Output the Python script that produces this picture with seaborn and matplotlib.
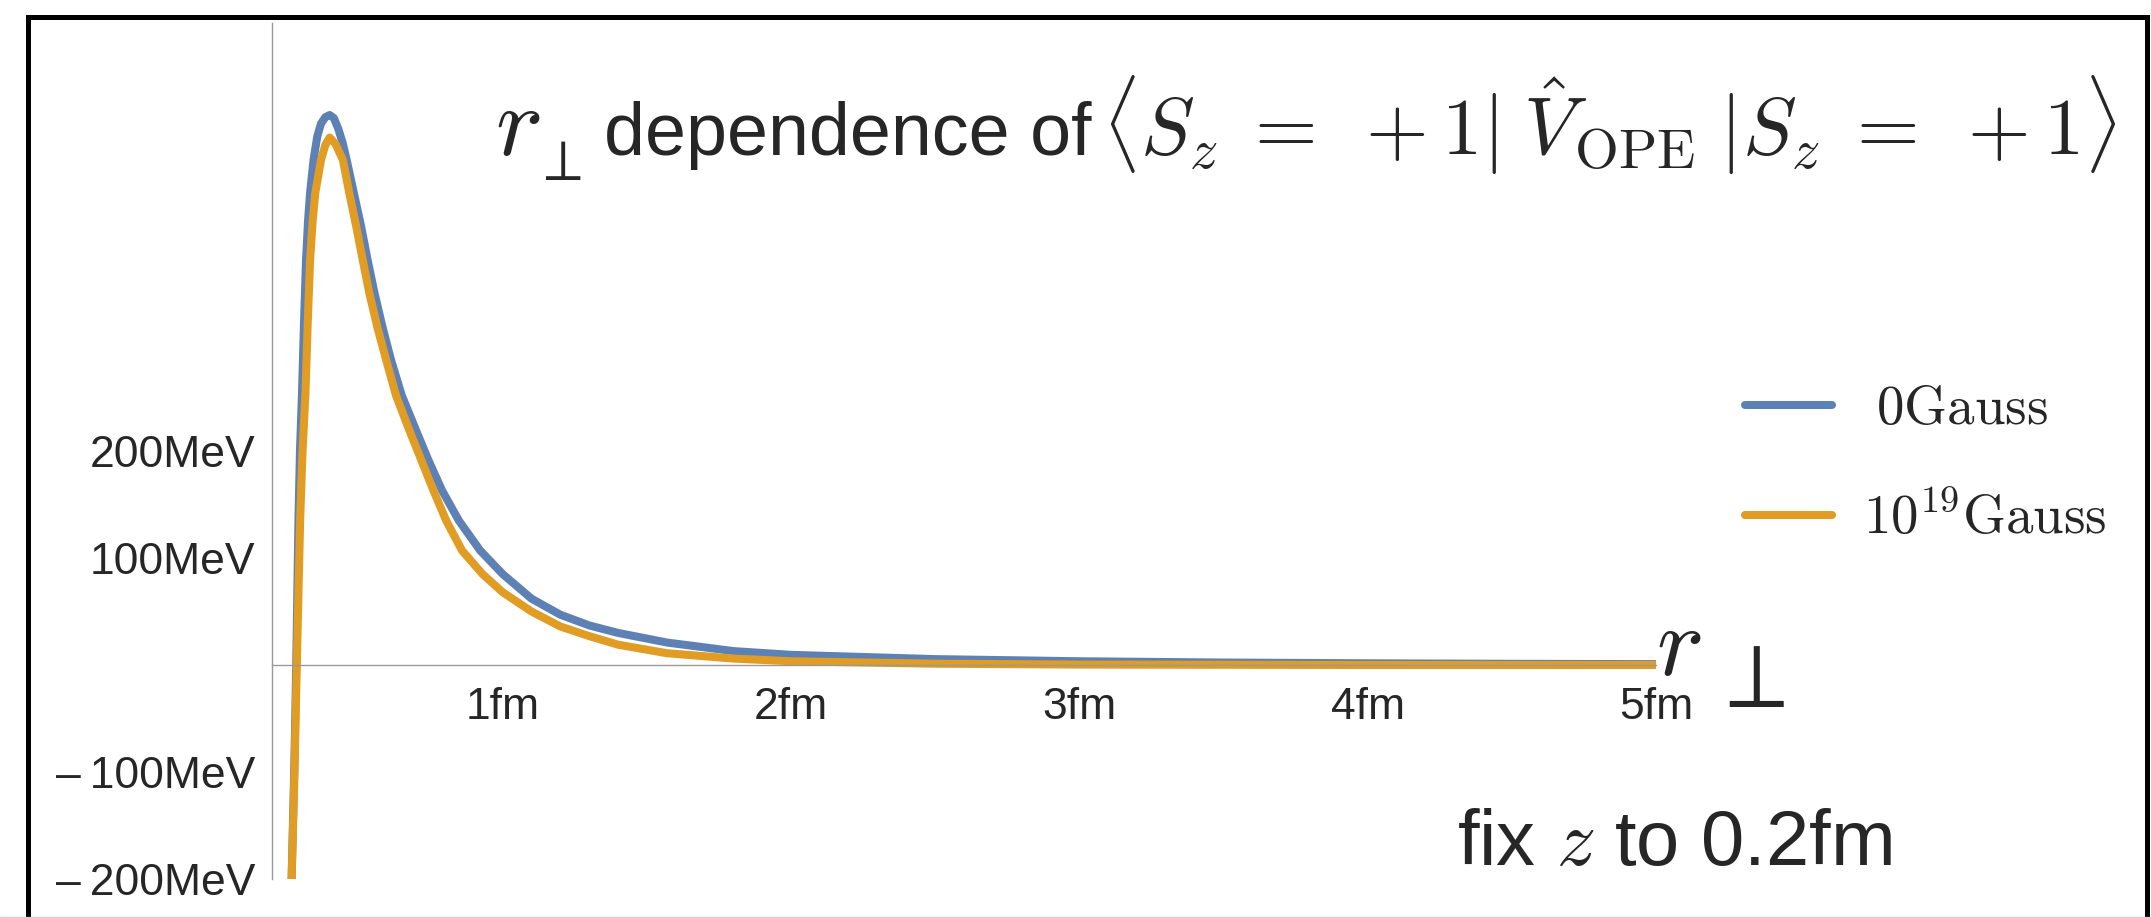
import pandas as pd
import matplotlib
matplotlib.use("Agg")
import matplotlib.pyplot as plt
import seaborn as sns
from matplotlib.lines import Line2D

# r_perp (fm) y potencial (MeV), z fijo a 0.2 fm
r_0gauss = [0.268, 0.277, 0.284, 0.2917, 0.297, 0.304, 0.311, 0.318, 0.325, 0.332,
            0.344, 0.357, 0.370, 0.385, 0.400, 0.415, 0.430, 0.445, 0.459, 0.484,
            0.509, 0.532, 0.556, 0.584, 0.613, 0.650, 0.694, 0.740, 0.790, 0.848,
            0.922, 1.0, 1.1, 1.2, 1.3, 1.4, 1.57, 1.8, 2.0, 2.5,
            3.0, 3.5, 4.0, 4.5, 5.0]
v_0gauss = [-200, -100, 0, 135, 200, 254, 320, 378, 415, 441,
            472, 494, 506, 512, 514, 511, 501, 488, 472, 441,
            410, 378, 347, 315, 285, 252, 223, 193, 163, 135,
            107, 85, 62, 47, 37, 30, 21, 13, 9.5, 5.5,
            3.5, 2.3, 1.6, 1.1, 0.8]

r_1e19 = [0.268, 0.278, 0.286, 0.2976, 0.306, 0.316, 0.324, 0.332, 0.341, 0.350,
          0.370, 0.385, 0.400, 0.420, 0.446, 0.468, 0.492, 0.515, 0.538, 0.566,
          0.596, 0.630, 0.671, 0.720, 0.760, 0.804, 0.859, 0.930, 1.0, 1.1,
          1.2, 1.3, 1.4, 1.57, 1.8, 2.0, 2.5, 3.0, 4.0, 5.0]
v_1e19 = [-200, -100, 0, 135, 200, 254, 320, 378, 415, 441,
          472, 486, 493, 487, 472, 441, 410, 378, 347, 315,
          285, 252, 223, 190, 163, 135, 107, 85, 68, 50,
          36, 27, 19, 11, 6, 3.5, 1.2, 0.4, 0, 0]

etiquetas = [r'$\;\mathrm{0Gauss}$', r'$10^{19}\mathrm{Gauss}$']
colores = ['#5E81B5', '#E19C24']

x_ticks = [1, 2, 3, 4, 5]
x_labels = ['1fm', '2fm', '3fm', '4fm', '5fm']
y_ticks = [-200, -100, 100, 200]
y_labels = ['\u2013\u2009200MeV', '\u2013\u2009100MeV', '100MeV', '200MeV']

df = pd.concat([
    pd.DataFrame({'r': r_0gauss, 'V': v_0gauss, 'campo': etiquetas[0]}),
    pd.DataFrame({'r': r_1e19, 'V': v_1e19, 'campo': etiquetas[1]}),
])

sns.set_style("white")
plt.rcParams['font.family'] = ['Liberation Sans', 'DejaVu Sans']
plt.rcParams['mathtext.fontset'] = 'cm'

W, H = 2151, 917
def px(x, y):
    return x / W, 1 - y / H

fig = plt.figure(figsize=(W / 100, H / 100), dpi=100)
ax = fig.add_axes([272 / W, 1 - 879 / H, (1656 - 272) / W, (879 - 23) / H])

sns.lineplot(data=df, x='r', y='V', hue='campo', palette=colores, estimator=None,
             sort=False, lw=5.8, ax=ax, legend=True)

ax.set_xlim(0.2, 5.0)
ax.set_ylim(-200, 600)
ax.spines['bottom'].set_position(('data', 0))
ax.spines['top'].set_visible(False)
ax.spines['right'].set_visible(False)
for s in ['left', 'bottom']:
    ax.spines[s].set_color('#999999')
    ax.spines[s].set_linewidth(1.0)
ax.set_xticks(x_ticks, x_labels)
ax.set_yticks(y_ticks, y_labels)
ax.tick_params(direction='in', length=12, width=1, color='#999999', labelsize=32)
ax.tick_params(axis='x', pad=16)
ax.tick_params(axis='y', pad=12)
ax.set_xlabel('')
ax.set_ylabel('')

# leyenda a la derecha
handles, labels = ax.get_legend_handles_labels()
ax.legend(handles, labels, loc='upper left', bbox_to_anchor=px(1745, 384),
          bbox_transform=fig.transFigure, frameon=False, fontsize=39.5,
          handlelength=1.58, handletextpad=0.57, labelspacing=1.05,
          borderpad=0, borderaxespad=0)

# titulo por partes
fig.text(*px(495, 155), r'$r$', fontsize=72, ha='left', va='baseline')
fig.text(*px(532, 180), r'$\perp$', fontsize=42, ha='left', va='baseline')
fig.text(*px(604, 155), 'dependence of', fontsize=53, ha='left', va='baseline')
fig.text(*px(1102, 155),
         r'$\langle S_z\;=\;+1|\;\hat{V}_{\mathrm{OPE}}\;|S_z\;=\;+1\rangle$',
         fontsize=58, ha='left', va='baseline')

# etiqueta del eje x
fig.text(*px(1656, 675), r'$r$', fontsize=72, ha='left', va='baseline')
fig.text(*px(1708, 707), r'$\perp$', fontsize=66, ha='left', va='baseline')

fig.text(*px(1457, 865), r'fix $z$ to 0.2fm', fontsize=56, ha='left', va='baseline')

# marco negro
negro = dict(color='black', lw=3.6, transform=fig.transFigure, solid_capstyle='projecting')
fig.add_artist(Line2D([27.5 / W, 27.5 / W], [0, 1 - 16.5 / H], **negro))
fig.add_artist(Line2D([2146.5 / W, 2146.5 / W], [0, 1 - 16.5 / H], **negro))
fig.add_artist(Line2D([27.5 / W, 2146.5 / W], [1 - 16.5 / H, 1 - 16.5 / H], **negro))
fig.add_artist(Line2D([0, 1], [0.5 / H, 0.5 / H], color='#bbbbbb', lw=1.0,
                      transform=fig.transFigure))

fig.savefig('out.png', dpi=100)
